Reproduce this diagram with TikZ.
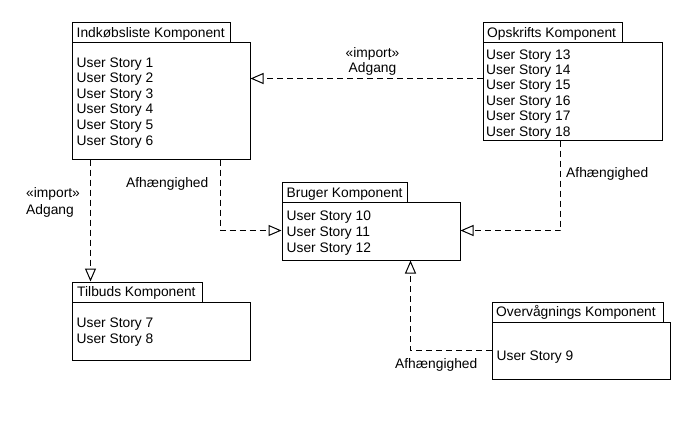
\documentclass[tikz,border=0pt]{standalone}
\usepackage{fontspec}
\setmainfont{Liberation Sans}
\usetikzlibrary{arrows.meta,calc}
\tikzset{
  box/.style={draw=black, line width=1pt, fill=white, inner sep=0pt, anchor=north west},
  txt/.style={inner sep=0pt, anchor=base west, font=\fontsize{13.8}{16}\selectfont},
  lbl/.style={inner sep=0pt, anchor=base, font=\fontsize{13.8}{16}\selectfont, align=center},
  dep/.style={draw=black, line width=1pt, dash pattern=on 6pt off 4pt,
    -{Triangle[open, length=13pt, width=11pt, fill=white]}}
}
\begin{document}
\begin{tikzpicture}[x=1pt,y=-1pt]
\useasboundingbox[fill=white] (0,0) rectangle (690,440);
% Indkobsliste
\node[box, minimum width=158pt, minimum height=20pt] (itab) at (71.5,21.5) {};
\node[box, minimum width=178pt, minimum height=117pt] (ib) at (71.5,41.5) {};
\node[txt] (it) at (76.5,37.3) {Indkøbsliste Komponent};
\foreach \i in {1,...,6} \node[txt] (is\i) at (76.5,{67+15.6*(\i-1)}) {User Story \i};
% Opskrifts
\node[box, minimum width=139pt, minimum height=20pt] (otab) at (482.5,21.5) {};
\node[box, minimum width=179pt, minimum height=98pt] (ob) at (482.5,41.5) {};
\node[txt] (ot) at (487,37.3) {Opskrifts Komponent};
\foreach \i [count=\k] in {13,...,18} \node[txt] (os\i) at (486,{59+15.4*(\k-1)}) {User Story \i};
% Bruger
\node[box, minimum width=125pt, minimum height=20pt] (btab) at (281.5,181.5) {};
\node[box, minimum width=178pt, minimum height=58pt] (bb) at (281.5,201.5) {};
\node[txt] (bt) at (286.5,197.3) {Bruger Komponent};
\foreach \i [count=\k] in {10,11,12} \node[txt] (bs\i) at (286.5,{220+16*(\k-1)}) {User Story \i};
% Tilbuds
\node[box, minimum width=130pt, minimum height=20pt] (ttab) at (71.5,281.5) {};
\node[box, minimum width=178pt, minimum height=58pt] (tb) at (71.5,301.5) {};
\node[txt] (tt) at (77,296.7) {Tilbuds Komponent};
\foreach \i [count=\k] in {7,8} \node[txt] (ts\i) at (76.5,{327.7+16*(\k-1)}) {User Story \i};
% Overvagnings
\node[box, minimum width=171pt, minimum height=20pt] (vtab) at (491.5,301.5) {};
\node[box, minimum width=178pt, minimum height=57pt] (vb) at (491.5,321.5) {};
\node[txt] (vt) at (496,316.7) {Overvågnings Komponent};
\node[txt] (vs9) at (496.5,360) {User Story 9};
% helper coordinates
\coordinate (y78) at (0,78.5);
\coordinate (x90) at (90.5,0);
\coordinate (x221) at (220.5,0);
\coordinate (y230) at (0,230.5);
\coordinate (x561) at (560.5,0);
\coordinate (y350) at (0,350.5);
\coordinate (x410) at (410.5,0);
% connectors
\draw[dep] (ob.west |- y78) -- (ib.east |- y78);
\draw[dep] (ib.south -| x90) -- (ttab.north -| x90);
\draw[dep] (ib.south -| x221) |- (bb.west |- y230);
\draw[dep] (ob.south -| x561) |- (bb.east |- y230);
\draw[dep] (vb.west |- y350) -| (bb.south -| x410);
% labels
\node[lbl] (l1a) at (372.5,57.7) {«import»};
\node[lbl] (l1b) at (372.5,72.3) {Adgang};
\node[txt] (l2a) at (26,197.7) {«import»};
\node[txt] (l2b) at (26,214) {Adgang};
\node[txt] (l3) at (126,187.3) {Afhængighed};
\node[txt] (l4) at (566,177) {Afhængighed};
\node[txt] (l5) at (395,368) {Afhængighed};
\end{tikzpicture}
\end{document}
